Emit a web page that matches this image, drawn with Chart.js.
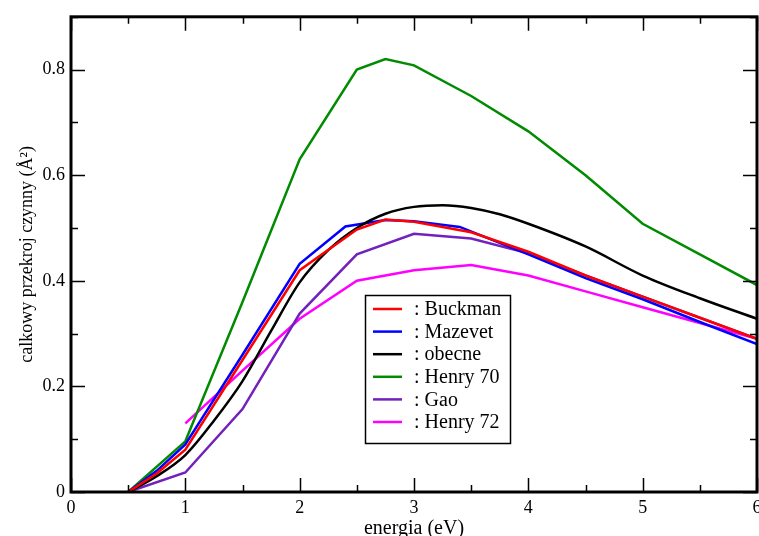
<!DOCTYPE html>
<html><head><meta charset="utf-8">
<script src="https://cdn.jsdelivr.net/npm/chart.js@4.4.1/dist/chart.umd.min.js"></script>
<style>html,body{margin:0;padding:0;background:#fff}</style>
</head><body>
<canvas id="c" width="759" height="536"></canvas>
<script>
// ---- data ----
const seriesNames = ['Buckman', 'Mazevet', 'obecne', 'Henry 70', 'Gao', 'Henry 72'];
const seriesColors = ['#ff0000', '#0000ff', '#000000', '#008b00', '#7221bc', '#ff00ff'];

const buckmanX = [0.5, 0.75, 1, 1.5, 2, 2.5, 2.75, 3, 3.5, 4, 4.5, 5, 5.5, 6];
const buckmanY = [0, 0.035, 0.08, 0.25, 0.42, 0.497, 0.516, 0.512, 0.492, 0.455, 0.41, 0.37, 0.33, 0.29];

const mazevetX = [0.5, 0.75, 1, 1.5, 2, 2.4, 2.75, 3, 3.4, 4, 4.5, 5, 5.5, 6];
const mazevetY = [0, 0.04, 0.09, 0.26, 0.432, 0.503, 0.515, 0.513, 0.502, 0.45, 0.405, 0.365, 0.322, 0.28];

const obecneX = [0.5, 0.75, 1, 1.25, 1.5, 1.75, 2, 2.25, 2.5, 2.75, 3, 3.25, 3.5, 3.75, 4, 4.5, 5, 5.5, 6];
const obecneY = [0, 0.03, 0.07, 0.135, 0.21, 0.305, 0.397, 0.458, 0.5, 0.527, 0.54, 0.543, 0.538, 0.526, 0.508, 0.465, 0.41, 0.367, 0.328];

const henry70X = [0.5, 1, 1.5, 2, 2.5, 2.75, 3, 3.5, 4, 4.5, 5, 5.5, 6];
const henry70Y = [0, 0.096, 0.36, 0.63, 0.80, 0.82, 0.808, 0.75, 0.683, 0.60, 0.508, 0.45, 0.392];

const gaoX = [0.5, 1, 1.5, 2, 2.5, 3, 3.5, 4, 4.5, 5, 5.5, 6];
const gaoY = [0, 0.037, 0.157, 0.338, 0.45, 0.489, 0.48, 0.452, 0.41, 0.37, 0.33, 0.29];

const henry72X = [1, 1.5, 2, 2.5, 3, 3.5, 4, 4.5, 5, 5.5, 6];
const henry72Y = [0.13, 0.23, 0.328, 0.40, 0.42, 0.43, 0.41, 0.38, 0.35, 0.32, 0.29];

const xTickValues = [0, 1, 2, 3, 4, 5, 6];
const xTickLabels = ['0', '1', '2', '3', '4', '5', '6'];
const yTickValues = [0, 0.2, 0.4, 0.6, 0.8];
const yTickLabels = ['0', '0.2', '0.4', '0.6', '0.8'];

const xTitle = 'energia (eV)';
const yTitle = 'calkowy przekroj czynny (\u00C5\u00B2)';

// ---- build ----
const xs = [buckmanX, mazevetX, obecneX, henry70X, gaoX, henry72X];
const ys = [buckmanY, mazevetY, obecneY, henry70Y, gaoY, henry72Y];
const drawOrder = [0, 2, 1, 3, 4, 5];
const datasets = seriesNames.map((name, i) => ({
  label: name,
  data: xs[i].map((x, j) => ({x: x, y: ys[i][j]})),
  borderColor: seriesColors[i],
  backgroundColor: seriesColors[i],
  borderWidth: 2.5,
  pointRadius: 0,
  fill: false,
  order: drawOrder[i],
  cubicInterpolationMode: name === 'obecne' ? 'monotone' : 'default',
  tension: 0
}));

const SERIF = '"Liberation Serif", "Times New Roman", serif';

const framePlugin = {
  id: 'frame',
  afterDatasetsDraw(chart) {
    const {ctx, chartArea: a, scales: {x, y}} = chart;
    ctx.save();
    ctx.strokeStyle = '#000';
    ctx.lineWidth = 1.5;
    const MAJ = 14, MIN = 7;
    ctx.beginPath();
    for (let v = 0; v <= 6.0001; v += 0.5) {
      const px = Math.round(x.getPixelForValue(v)) + 0.5;
      const len = Math.abs(v - Math.round(v)) < 1e-6 ? MAJ : MIN;
      ctx.moveTo(px, a.bottom); ctx.lineTo(px, a.bottom - len);
      ctx.moveTo(px, a.top); ctx.lineTo(px, a.top + len);
    }
    for (let k = 0; k <= 9; k++) {
      const v = k / 10;
      const py = Math.round(y.getPixelForValue(v)) + 0.5;
      const len = k % 2 === 0 ? MAJ : MIN;
      ctx.moveTo(a.left, py); ctx.lineTo(a.left + len, py);
      ctx.moveTo(a.right, py); ctx.lineTo(a.right - len, py);
    }
    ctx.stroke();
    ctx.lineWidth = 3;
    ctx.strokeRect(a.left, a.top, a.right - a.left, a.bottom - a.top);

    // legend box
    const L = 365.5, T = 295.5, W = 145, H = 148;
    ctx.fillStyle = '#fff';
    ctx.fillRect(L, T, W, H);
    ctx.lineWidth = 1.5;
    ctx.strokeRect(L, T, W, H);
    ctx.font = '20px ' + SERIF;
    ctx.textBaseline = 'middle';
    ctx.textAlign = 'left';
    chart.data.datasets.forEach((ds, i) => {
      const yy = 309 + i * 22.6;
      ctx.strokeStyle = ds.borderColor;
      ctx.lineWidth = 2.5;
      ctx.beginPath();
      ctx.moveTo(373, yy); ctx.lineTo(402, yy);
      ctx.stroke();
      ctx.fillStyle = '#000';
      ctx.fillText(': ' + ds.label, 414, yy + 1);
    });
    ctx.restore();
  }
};

new Chart(document.getElementById('c'), {
  type: 'line',
  data: {datasets: datasets},
  options: {
    responsive: false,
    animation: false,
    layout: {autoPadding: false, padding: {left: 0, right: 2, top: 14, bottom: 0}},
    plugins: {legend: {display: false}, tooltip: {enabled: false}},
    scales: {
      x: {
        type: 'linear', min: 0, max: 6,
        grid: {display: false, drawTicks: false},
        border: {display: false},
        afterBuildTicks(s) { s.ticks = xTickValues.map(v => ({value: v})); },
        afterFit(s) { s.height = 44; s.paddingLeft = 0; s.paddingRight = 0; },
        ticks: {
          color: '#000', padding: 5, maxRotation: 0, autoSkip: false,
          font: {family: SERIF, size: 18},
          callback: (v, i) => xTickLabels[i]
        },
        title: {display: true, text: xTitle, color: '#000',
          font: {family: SERIF, size: 20, lineHeight: 1}, padding: {top: 0, bottom: -3}}
      },
      y: {
        type: 'linear', min: 0, max: 0.9,
        grid: {display: false, drawTicks: false},
        border: {display: false},
        afterBuildTicks(s) { s.ticks = yTickValues.map(v => ({value: v})); },
        afterFit(s) { s.width = 71; },
        ticks: {
          color: '#000', padding: 6, autoSkip: false,
          font: {family: SERIF, size: 18},
          callback: (v, i) => yTickLabels[i]
        },
        title: {display: true, text: yTitle, color: '#000',
          font: {family: SERIF, size: 18, lineHeight: 1}, padding: {top: 18, bottom: 0}}
      }
    }
  },
  plugins: [framePlugin]
});
</script>
</body></html>
